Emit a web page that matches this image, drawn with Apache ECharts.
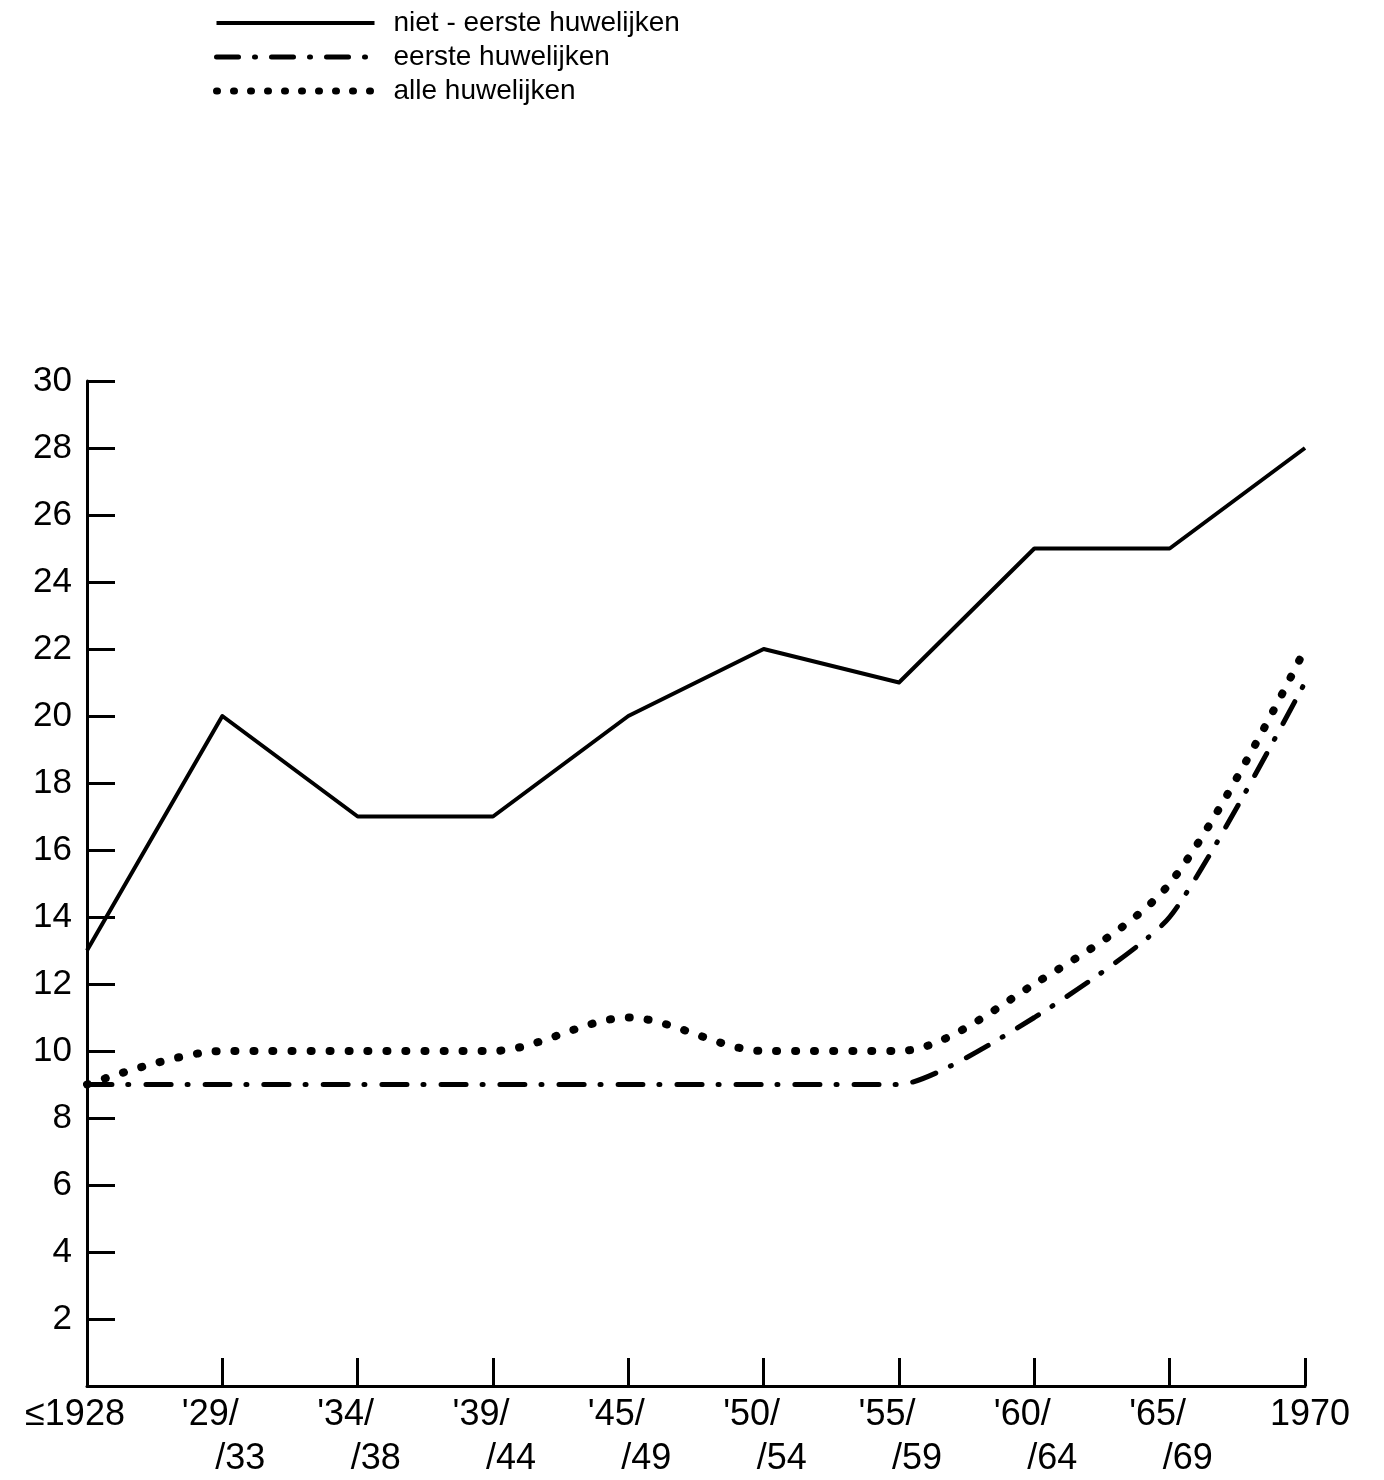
<!DOCTYPE html>
<html>
<head>
<meta charset="utf-8">
<script src="https://cdn.jsdelivr.net/npm/echarts@6/dist/echarts.min.js"></script>
<style>
html,body{margin:0;padding:0;background:#fff;}
#chart{width:1384px;height:1480px;}
</style>
</head>
<body>
<div id="chart"></div>
<script>
// Categories (x axis): [first line, second line]
const categoriesTop = ['≤1928', "'29", "'34", "'39", "'45", "'50", "'55", "'60", "'65", '1970'];
const categoriesBottom = ['', '33', '38', '44', '49', '54', '59', '64', '69', ''];
const categories = categoriesTop.map((t, i) => t + (categoriesBottom[i] ? '/' + categoriesBottom[i] : ''));

// Series values (percentages)
const nietEerste = [13, 20, 17, 17, 20, 22, 21, 25, 25, 28];
const eerste = [9, 9, 9, 9, 9, 9, 9, 11, 14, 21];
const alle = [9, 10, 10, 10, 11, 10, 10, 12, 15, 22];

// Series names
const seriesNames = ['niet - eerste huwelijken', 'eerste huwelijken', 'alle huwelijken'];

// Y axis range / tick step
const yMin = 0, yMax = 30, yInterval = 2;

const FONT = '"Liberation Sans", Arial, Helvetica, sans-serif';
const chart = echarts.init(document.getElementById('chart'), null, {renderer: 'canvas'});

const solidStyle = {color: '#000', width: 4, type: 'solid', join: 'round'};
const dashDotStyle = {color: '#000', width: 5, type: [25, 16, 1, 17], cap: 'round'};
const dotStyle = {color: '#000', width: 8, type: [1, 18], cap: 'round'};
const hiddenSymbol = {opacity: 0, color: 'transparent', borderWidth: 0};

const option = {
  backgroundColor: '#ffffff',
  animation: false,
  textStyle: {fontFamily: FONT, color: '#000'},
  legend: {
    orient: 'vertical',
    left: 208,
    top: 4,
    itemWidth: 158,
    itemHeight: 14,
    itemGap: 6,
    textStyle: {fontFamily: FONT, fontSize: 28, color: '#000', padding: [0, 0, 0, 14]},
    data: [
      {name: seriesNames[0], lineStyle: {width: 4, type: 'solid', color: '#000'}, itemStyle: hiddenSymbol},
      {name: seriesNames[1], lineStyle: {width: 5, type: [22, 16, 1, 16], cap: 'round', color: '#000'}, itemStyle: hiddenSymbol},
      {name: seriesNames[2], lineStyle: {width: 7, type: [1, 16], cap: 'round', color: '#000'}, itemStyle: hiddenSymbol}
    ]
  },
  grid: {left: 87, right: 79, top: 381, bottom: 94, containLabel: false},
  xAxis: {
    type: 'category',
    data: categories,
    boundaryGap: false,
    axisLine: {show: true, lineStyle: {color: '#000', width: 3}},
    axisTick: {show: true, inside: true, length: 28, alignWithLabel: true, lineStyle: {color: '#000', width: 3}},
    axisLabel: {
      interval: 0,
      margin: 9,
      fontFamily: FONT,
      fontSize: 36,
      color: '#000',
      formatter: function (v, i) {
        const top = categoriesTop[i];
        const bot = categoriesBottom[i];
        if (!bot) return i === 0 ? '{f|' + top + '}' : '{s|' + top + '}';
        return '{t|' + top + '/}\n{b|/' + bot + '}';
      },
      rich: {
        f: {fontFamily: FONT, fontSize: 36, color: '#000', lineHeight: 40, padding: [0, 24, 0, 0]},
        s: {fontFamily: FONT, fontSize: 36, color: '#000', lineHeight: 40, padding: [0, 0, 0, 10]},
        t: {fontFamily: FONT, fontSize: 36, color: '#000', lineHeight: 40, padding: [0, 24, 0, 0]},
        b: {fontFamily: FONT, fontSize: 36, color: '#000', lineHeight: 48, padding: [0, 0, 0, 36]}
      }
    },
    splitLine: {show: false}
  },
  yAxis: {
    type: 'value',
    min: yMin,
    max: yMax,
    interval: yInterval,
    axisLine: {show: true, lineStyle: {color: '#000', width: 3}},
    axisTick: {show: true, inside: true, length: 28, lineStyle: {color: '#000', width: 3}},
    axisLabel: {
      margin: 15,
      fontFamily: FONT,
      fontSize: 35,
      color: '#000',
      formatter: function (v) { return v === 0 ? '' : String(v); }
    },
    splitLine: {show: false}
  },
  series: [
    {
      name: seriesNames[0],
      type: 'line',
      data: nietEerste,
      symbol: 'none',
      lineStyle: solidStyle,
      itemStyle: {color: '#000'}
    },
    {
      name: seriesNames[1],
      type: 'line',
      data: eerste,
      symbol: 'none',
      smooth: 0.2,
      lineStyle: dashDotStyle,
      itemStyle: {color: '#000'}
    },
    {
      name: seriesNames[2],
      type: 'line',
      data: alle,
      symbol: 'none',
      smooth: 0.3,
      lineStyle: dotStyle,
      itemStyle: {color: '#000'}
    }
  ]
};
chart.setOption(option);
</script>
</body>
</html>
